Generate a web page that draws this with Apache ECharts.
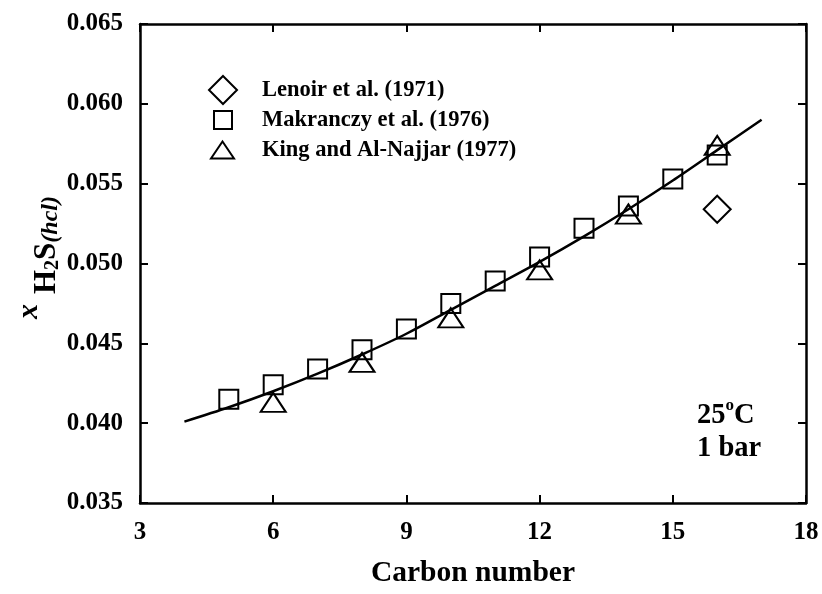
<!DOCTYPE html>
<html>
<head>
<meta charset="utf-8">
<script src="https://cdn.jsdelivr.net/npm/echarts@6/dist/echarts.min.js"></script>
<style>html,body{margin:0;padding:0;background:#fff}#c{width:822px;height:594px}</style>
</head>
<body>
<div id="c"></div>
<script>
// ---- data ----
var makranczyX = [5, 6, 7, 8, 9, 10, 11, 12, 13, 14, 15, 16];
var makranczyY = [0.0415, 0.0424, 0.0434, 0.0446, 0.0459, 0.0475, 0.0489, 0.0504, 0.0522, 0.0536, 0.0553, 0.0568];
var kingX = [6, 8, 10, 12, 14, 16];
var kingY = [0.0413, 0.0438, 0.0466, 0.0496, 0.0531, 0.0574];
var lenoirX = [16];
var lenoirY = [0.0534];
var fitX = [4, 5, 6, 7, 8, 9, 10, 11, 12, 13, 14, 15, 16, 17];
var fitY = [0.0401, 0.0410, 0.0420, 0.0431, 0.0443, 0.0456, 0.0471, 0.0486, 0.0501, 0.0517, 0.0534, 0.0552, 0.0571, 0.0590];
var seriesNames = ['Lenoir et al. (1971)', 'Makranczy et al. (1976)', 'King and Al-Najjar (1977)'];

function pairs(xs, ys) { return xs.map(function (x, i) { return [x, ys[i]]; }); }

var FONT = "'Liberation Serif', 'Times New Roman', serif";
var chart = echarts.init(document.getElementById('c'), null, { renderer: 'canvas' });

var axisLineStyle = { color: '#000', width: 2.5 };
var markerStyle = { color: 'rgba(0,0,0,0)', borderColor: '#000', borderWidth: 2, opacity: 1 };

function legendFor(name, top, left, w, h, pad) {
  return {
    data: [name], orient: 'vertical', left: left, top: top, padding: 0,
    itemWidth: w, itemHeight: h, symbolKeepAspect: false,
    selectedMode: false,
    textStyle: { fontFamily: FONT, fontWeight: 'bold', fontSize: 22.5, color: '#000', lineHeight: 23, padding: [0, 0, 0, pad] }
  };
}

chart.setOption({
  animation: false,
  backgroundColor: '#fff',
  grid: { left: 140, right: 16, top: 24, bottom: 91, containLabel: false, outerBoundsMode: 'none' },
  legend: [
    legendFor(seriesNames[0], 75, 208, 28, 28, 20),
    legendFor(seriesNames[1], 108.5, 213, 18, 18, 25),
    legendFor(seriesNames[2], 138.5, 210, 23, 17, 23)
  ],
  xAxis: [{
    type: 'value', min: 3, max: 18, interval: 3,
    name: 'Carbon number', nameLocation: 'middle', nameGap: 55,
    nameTextStyle: { fontFamily: FONT, fontWeight: 'bold', fontSize: 29.5, color: '#000' },
    axisLine: { lineStyle: axisLineStyle },
    axisTick: { inside: true, length: 8, lineStyle: { color: '#000', width: 2 } },
    axisLabel: { fontFamily: FONT, fontWeight: 'bold', fontSize: 25, color: '#000', margin: 17 },
    splitLine: { show: false }
  }, {
    type: 'value', min: 3, max: 18, interval: 3, position: 'top',
    axisLine: { lineStyle: axisLineStyle },
    axisTick: { inside: true, length: 8, lineStyle: { color: '#000', width: 2 } },
    axisLabel: { show: false }, splitLine: { show: false }
  }],
  yAxis: [{
    type: 'value', min: 0.035, max: 0.065, interval: 0.005,
    name: '{x|x}{h|H}{s|2}{h|S}{p|(hcl)}',
    nameLocation: 'middle', nameRotate: 90, nameGap: 82, nameMoveOverlap: false,
    nameTextStyle: {
      fontFamily: FONT, color: '#000',
      rich: {
        x: { fontFamily: FONT, fontStyle: 'italic', fontWeight: 'bold', fontSize: 30, lineHeight: 30, padding: [2, 10, 28, 12] },
        h: { fontFamily: FONT, fontWeight: 'bold', fontSize: 31, lineHeight: 31, padding: [19, 0, 10, 0] },
        s: { fontFamily: FONT, fontWeight: 'bold', fontSize: 20, lineHeight: 20, padding: [30, 0, 10, 0] },
        p: { fontFamily: FONT, fontStyle: 'italic', fontWeight: 'bold', fontSize: 24, lineHeight: 24, padding: [26, 0, 10, 0] }
      }
    },
    axisLine: { lineStyle: axisLineStyle },
    axisTick: { inside: true, length: 8, lineStyle: { color: '#000', width: 2 } },
    axisLabel: { fontFamily: FONT, fontWeight: 'bold', fontSize: 25, color: '#000', margin: 17,
      formatter: function (v) { return v.toFixed(3); } },
    splitLine: { show: false }
  }, {
    type: 'value', min: 0.035, max: 0.065, interval: 0.005, position: 'right',
    axisLine: { lineStyle: axisLineStyle },
    axisTick: { inside: true, length: 8, lineStyle: { color: '#000', width: 2 } },
    axisLabel: { show: false }, splitLine: { show: false }
  }],
  graphic: [{
    type: 'text', left: 697, top: 397, silent: true,
    style: {
      text: '{a|25}{o|o}{a|C}\n{a|1 bar}',
      fill: '#000',
      rich: {
        a: { fontFamily: FONT, fontWeight: 'bold', fontSize: 28.5, lineHeight: 33, verticalAlign: 'bottom' },
        o: { fontFamily: FONT, fontWeight: 'bold', fontSize: 17, lineHeight: 33, verticalAlign: 'top' }
      }
    }
  }],
  series: [{
    type: 'line', name: 'fit', data: pairs(fitX, fitY), smooth: 0.3,
    showSymbol: false, lineStyle: { color: '#000', width: 2.5 }, silent: true, z: 1
  }, {
    type: 'scatter', name: seriesNames[0], data: pairs(lenoirX, lenoirY),
    symbol: 'diamond', symbolSize: 27, itemStyle: markerStyle, emphasis: { disabled: true }, z: 3
  }, {
    type: 'scatter', name: seriesNames[1], data: pairs(makranczyX, makranczyY),
    symbol: 'rect', symbolSize: 19, itemStyle: markerStyle, emphasis: { disabled: true }, z: 3
  }, {
    type: 'scatter', name: seriesNames[2], data: pairs(kingX, kingY),
    symbol: 'triangle', symbolSize: [25, 19], itemStyle: markerStyle, emphasis: { disabled: true }, z: 3
  }]
});
</script>
</body>
</html>
